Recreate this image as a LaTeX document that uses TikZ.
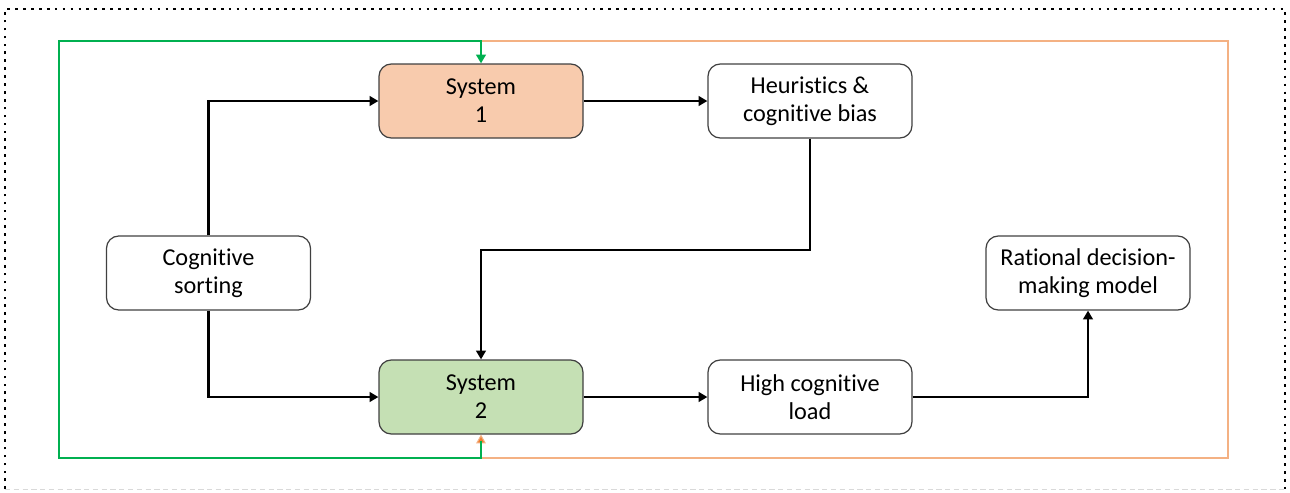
\documentclass[tikz,border=0pt]{standalone}
\usepackage{fontspec}
\setmainfont{Carlito}[Ligatures=NoCommon]
\usetikzlibrary{arrows.meta}
\usetikzlibrary{calc}

\definecolor{sysorange}{HTML}{F8CBAD}
\definecolor{sysgreen}{HTML}{C5E0B4}
\definecolor{loopgreen}{HTML}{00B050}
\definecolor{looporange}{HTML}{F4B183}
\definecolor{tiporange}{HTML}{ED7D31}

\tikzset{
	box/.style={draw=black!75, line width=0.7pt, rounded corners=7pt, minimum width=4.08cm, minimum height=1.48cm, align=center, font=\fontsize{13.8}{16}\selectfont},
	flow/.style={line width=1.6pt, -{Triangle[length=5pt,width=5.5pt]}},
}

\begin{document}
\begin{tikzpicture}[]

	% frame
	\useasboundingbox (0,0) rectangle (25.8,-9.84);
	\draw[line width=1.5pt, dash pattern=on 1.5pt off 3pt] (0.1,-9.78) -- (0.1,-0.18) -- (25.7,-0.18) -- (25.7,-9.78);
	\draw[densely dashed, black!15, line width=0.5pt] (0.1,-9.78) -- (25.7,-9.78);

	% boxes
	\node[box, fill=sysorange] (sys1) at (9.62,-2.02) {System\\1};
	\node[box] (heur) at (16.2,-2.02) {Heuristics \&\\cognitive bias};
	\node[box] (sort) at (4.17,-5.46) {Cognitive\\sorting};
	\node[box] (rat) at (21.76,-5.46) {Rational decision-\\making model};
	\node[box, fill=sysgreen] (sys2) at (9.62,-7.94) {System\\2};
	\node[box] (load) at (16.2,-7.94) {High cognitive\\load};

	% feedback loops
	\draw[looporange, line width=0.6pt, -{Triangle[length=5pt,width=5.5pt,fill=tiporange]}]
		(sys1.north |- 0,-0.82) -- (24.56,-0.82) -- (24.56,-9.16) -- (sys2.south |- 0,-9.16) -- (sys2.south);
	\draw[loopgreen, line width=1.5pt, -{Triangle[length=5pt,width=5.5pt]}]
		($(sys2.south)+(0,-0.12)$) -- (sys2.south |- 0,-9.16) -- (1.18,-9.16) -- (1.18,-0.82) -- (sys1.north |- 0,-0.82) -- (sys1.north);

	% main flow
	\draw[flow] (sort.north) |- (sys1.west);
	\draw[flow] (sort.south) |- (sys2.west);
	\draw[flow] (sys1.east) -- (heur.west);
	\draw[flow] (heur.south) -- (heur.south |- 0,-5.0) -| (sys2.north);
	\draw[flow] (sys2.east) -- (load.west);
	\draw[flow] (load.east) -| (rat.south);

\end{tikzpicture}
\end{document}
